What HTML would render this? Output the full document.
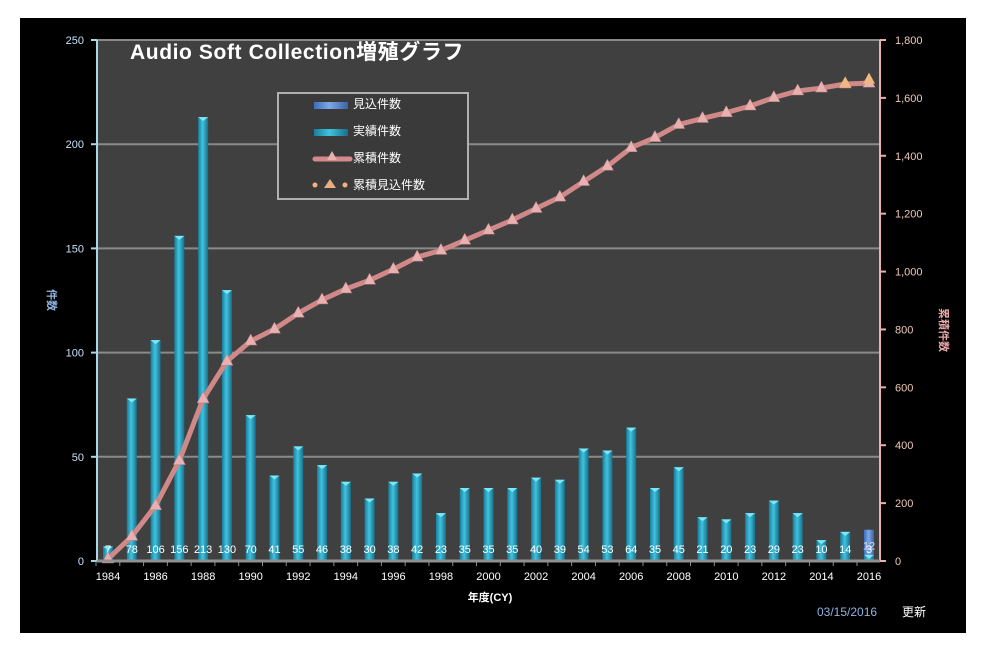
<!DOCTYPE html>
<html><head><meta charset="utf-8"><style>
body{margin:0;background:#fff;}
svg{display:block;font-family:"Liberation Sans","Noto Sans CJK JP",sans-serif;}
</style></head><body>
<svg id="c" width="985" height="648" xmlns="http://www.w3.org/2000/svg">
<defs>
<linearGradient id="gb" x1="0" x2="1"><stop offset="0" stop-color="#1a7d99"/><stop offset="0.45" stop-color="#3ec3e0"/><stop offset="1" stop-color="#1a6f88"/></linearGradient>
<linearGradient id="gf" x1="0" x2="1"><stop offset="0" stop-color="#3b6fb8"/><stop offset="0.45" stop-color="#7ea9e8"/><stop offset="1" stop-color="#3a62a6"/></linearGradient>
</defs>
<rect x="20" y="18" width="946" height="615" fill="#000"/>
<rect x="97" y="40" width="783" height="521" fill="#404040"/>
<g id="grid"></g>
<g id="bars"></g>
<g id="line"></g>
<g id="axes"></g>
<text x="130" y="59" fill="#fff" font-size="21" font-weight="bold" letter-spacing="0.6">Audio Soft Collection増殖グラフ</text>
<text x="490" y="601" fill="#fff" font-size="11" font-weight="bold" text-anchor="middle">年度(CY)</text>
<text x="48" y="300" fill="#8fb4e0" font-size="11" font-weight="bold" text-anchor="middle" transform="rotate(90 48 300)">件数</text>
<text x="940" y="330" fill="#e8a8a8" font-size="11" font-weight="bold" text-anchor="middle" transform="rotate(90 940 330)">累積件数</text>
<text x="817" y="616" fill="#8fb4e0" font-size="12">03/15/2016</text>
<text x="902" y="616" fill="#fff" font-size="12">更新</text>
<g>
<rect x="278" y="93" width="190" height="106" fill="#3a3a3a" stroke="#b0b0b0" stroke-width="2"/>
<rect x="314" y="102" width="34" height="7" fill="url(#gf)"/>
<text x="353" y="108" fill="#fff" font-size="12">見込件数</text>
<rect x="314" y="129" width="34" height="7" fill="url(#gb)"/>
<text x="353" y="135" fill="#fff" font-size="12">実績件数</text>
<line x1="315" y1="159" x2="350" y2="159" stroke="#d48a8a" stroke-width="5" stroke-linecap="round"/>
<polygon points="332,151 327,160 337,160" fill="#e8b0b0"/>
<text x="353" y="162" fill="#fff" font-size="12">累積件数</text>
<circle cx="315" cy="185" r="2.5" fill="#f5b080"/><circle cx="345" cy="185" r="2.5" fill="#f5b080"/>
<polygon points="330,179 324,188 336,188" fill="#e8b080"/>
<text x="353" y="189" fill="#fff" font-size="12">累積見込件数</text>
</g>
</svg>
<script>
const years=[1984,1985,1986,1987,1988,1989,1990,1991,1992,1993,1994,1995,1996,1997,1998,1999,2000,2001,2002,2003,2004,2005,2006,2007,2008,2009,2010,2011,2012,2013,2014,2015,2016];
const actual=[7,78,106,156,213,130,70,41,55,46,38,30,38,42,23,35,35,35,40,39,54,53,64,35,45,21,20,23,29,23,10,14,3];
const forecast=[0,0,0,0,0,0,0,0,0,0,0,0,0,0,0,0,0,0,0,0,0,0,0,0,0,0,0,0,0,0,0,0,12];
const cumulative=[7,85,191,347,560,690,760,801,856,902,940,970,1008,1050,1073,1108,1143,1178,1218,1257,1311,1364,1428,1463,1508,1529,1549,1572,1601,1624,1634,1648,1651];
const cumForecastYears=[2015,2016];
const cumForecast=[1650,1663];
const leftTicks=[0,50,100,150,200,250];
const rightTicks=[0,200,400,600,800,1000,1200,1400,1600,1800];
const NS="http://www.w3.org/2000/svg";
const x0=108,x1=869,yB=561,yT=40;
const xs=y=>x0+(y-years[0])*(x1-x0)/(years[years.length-1]-years[0]);
const yl=v=>yB-v*(yB-yT)/250;
const yr=v=>yB-v*(yB-yT)/1800;
function mk(tag,attrs,parent,txt){const e=document.createElementNS(NS,tag);for(const k in attrs)e.setAttribute(k,attrs[k]);if(txt!==undefined)e.textContent=txt;document.getElementById(parent).appendChild(e);return e;}
leftTicks.forEach(t=>{if(t>0){const g=mk('line',{x1:97,x2:880,y1:yl(t),y2:yl(t),stroke:'#8a8a8a','stroke-width':2},'grid');

}
const l=mk('text',{x:84,y:yl(t)+4,fill:'#c8e0f8','font-size':11,'text-anchor':'end'},'axes',t);


mk('line',{x1:91,x2:97,y1:yl(t),y2:yl(t),stroke:'#a8d8e8','stroke-width':2},'axes');});
rightTicks.forEach(t=>{const l=mk('text',{x:895,y:yr(t)+4,fill:'#f0c8b8','font-size':11},'axes',t.toLocaleString('en-US'));


mk('line',{x1:880,x2:886,y1:yr(t),y2:yr(t),stroke:'#e8b0b0','stroke-width':2},'axes');});
mk('line',{x1:97,x2:97,y1:40,y2:561,stroke:'#a8d8e8','stroke-width':2},'axes');
mk('line',{x1:880,x2:880,y1:40,y2:561,stroke:'#e8b0b0','stroke-width':2},'axes');
mk('line',{x1:97,x2:880,y1:561,y2:561,stroke:'#909090','stroke-width':3},'axes');
years.forEach((y,i)=>{const x=xs(y);
mk('line',{x1:x-12,x2:x-12,y1:561,y2:566,stroke:'#909090','stroke-width':1},'axes');
if(i%2===0){const l=mk('text',{x:x,y:580,fill:'#fff','font-size':11,'text-anchor':'middle'},'axes',y);

}
const b=mk('rect',{x:x-5,y:yl(actual[i]),width:10,height:yB-yl(actual[i]),fill:'url(#gb)'},'bars');


mk('polygon',{points:`${x-5},${yl(actual[i])} ${x+5},${yl(actual[i])} ${x},${yl(actual[i])+4}`,fill:'#7ae8f8'},'bars');
if(forecast[i]>0){const top=actual[i]+forecast[i];
const f=mk('rect',{x:x-5,y:yl(top),width:10,height:yl(actual[i])-yl(top),fill:'url(#gf)'},'bars');


mk('text',{x:x,y:yl(actual[i])-5,fill:'#dde','font-size':11,'text-anchor':'middle'},'bars',forecast[i]);}
const v=mk('text',{x:x,y:553,fill:'#fff','font-size':11,'text-anchor':'middle'},'bars',actual[i]);

});
const pl=mk('polyline',{points:years.map((y,i)=>xs(y)+','+yr(cumulative[i])).join(' '),fill:'none',stroke:'#d08888','stroke-width':5,'stroke-linejoin':'round'},'line');


years.forEach((y,i)=>{const x=xs(y),yy=yr(cumulative[i]);
const m=mk('polygon',{points:`${x},${yy-7} ${x-6},${yy+4} ${x+6},${yy+4}`,fill:'#e8b0b0',stroke:'#c08080','stroke-width':0.5},'line');

});
cumForecastYears.forEach((y,i)=>{const x=xs(y),yy=yr(cumForecast[i]);
const m=mk('polygon',{points:`${x},${yy-7} ${x-6},${yy+4} ${x+6},${yy+4}`,fill:'#f0b880'},'line');

});
</script>
</body></html>
